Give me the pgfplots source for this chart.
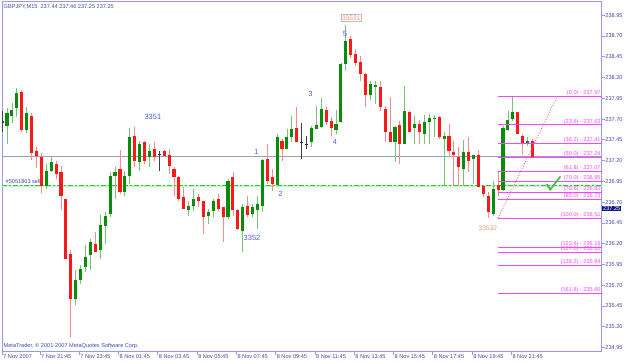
\documentclass[border=0pt]{standalone}
\usepackage{pgfplots}
\pgfplotsset{compat=1.18}
\usepackage{pgfplotstable}
\usepackage{fontspec}
\setmainfont{Liberation Sans}
\definecolor{cgbody}{RGB}{10,140,10}
\definecolor{cgwick}{RGB}{120,195,120}
\definecolor{crbody}{RGB}{250,25,25}
\definecolor{crwick}{RGB}{245,140,140}
\definecolor{axcol}{RGB}{150,150,255}
\definecolor{lblcol}{RGB}{70,70,170}
\definecolor{fibcol}{RGB}{250,70,250}
\definecolor{ordA}{RGB}{200,245,200}
\definecolor{ordB}{RGB}{30,210,30}
\definecolor{wavecol}{RGB}{90,90,240}
\definecolor{tkcol}{RGB}{240,150,120}
\definecolor{bidcol}{RGB}{150,160,190}
\newcommand\tf{\fontsize{5.6bp}{6bp}\selectfont}
\newcommand\wf{\fontsize{7.5bp}{8bp}\selectfont}

\pgfplotstableread{
i o h l c
0 237.62 237.83 237.40 237.77
1 237.74 237.89 237.65 237.81
2 237.83 238.08 237.72 238.02
4 237.57 237.85 237.53 237.77
8 236.90 237.16 236.86 237.08
9 237.08 237.24 237.06 237.19
14 235.53 235.88 235.46 235.77
15 235.77 235.94 235.72 235.90
16 235.92 236.18 235.86 236.04
17 236.06 236.26 235.88 236.22
19 236.12 236.54 236.02 236.43
20 236.42 236.58 236.20 236.54
21 236.56 237.06 236.52 237.02
22 237.02 237.12 236.74 237.07
24 236.82 237.08 236.77 237.02
25 237.02 237.60 236.92 237.49
27 237.18 237.44 237.08 237.40
29 237.24 237.40 237.12 237.32
37 236.61 236.71 236.54 236.66
38 236.66 236.86 236.59 236.74
41 236.54 236.62 236.44 236.58
42 236.59 236.74 236.52 236.72
45 236.52 236.98 236.50 236.96
48 236.36 236.68 236.10 236.64
50 236.56 236.68 236.52 236.64
51 236.61 236.78 236.38 236.68
52 236.66 237.22 236.58 237.21
55 236.91 237.52 236.90 237.48
57 237.34 237.58 237.34 237.48
58 237.48 237.74 237.42 237.58
62 237.42 237.62 237.36 237.60
63 237.58 237.86 237.58 237.63
64 237.61 237.96 237.60 237.82
67 237.57 237.81 237.52 237.64
68 237.66 238.38 237.66 238.36
69 238.36 238.83 238.28 238.64
74 237.99 238.16 237.93 238.12
75 238.10 238.16 237.88 238.11
79 237.42 237.62 237.18 237.61
81 237.40 238.10 237.40 237.80
83 237.60 237.74 237.40 237.64
85 237.52 237.75 237.40 237.66
86 237.67 237.76 237.40 237.72
87 237.70 237.75 237.48 237.72
89 237.46 237.54 236.90 237.50
93 237.10 237.45 236.90 237.31
95 237.22 237.27 236.92 237.27
99 236.56 236.96 236.53 236.86
101 236.85 237.62 236.84 237.60
102 237.57 237.80 237.56 237.69
103 237.70 237.97 237.68 237.78
106 237.40 237.48 237.38 237.44
}\upT

\pgfplotstableread{
i o h l c
3 238.03 238.05 237.54 237.57
5 237.74 237.78 237.21 237.29
6 237.32 237.36 237.11 237.26
7 237.25 237.29 236.81 236.90
10 237.16 237.19 236.98 237.04
11 237.07 237.14 236.60 236.77
12 236.74 236.74 236.02 236.02
13 236.08 236.12 235.08 235.54
18 236.20 236.34 236.10 236.10
23 237.10 237.33 236.80 236.82
26 237.50 237.61 237.13 237.20
28 237.42 237.44 237.16 237.20
30 237.34 237.42 237.20 237.24
32 237.32 237.33 237.24 237.25
33 237.27 237.34 237.04 237.13
34 237.10 237.13 236.77 237.00
35 237.01 237.02 236.72 236.74
36 236.76 236.88 236.62 236.62
39 236.76 236.80 236.64 236.71
40 236.72 236.72 236.32 236.52
43 236.74 236.80 236.60 236.62
44 236.64 236.64 236.22 236.52
46 237.00 237.07 236.54 236.60
47 236.60 236.62 236.37 236.38
49 236.66 236.77 236.52 236.54
53 237.22 237.40 236.92 236.96
54 237.00 237.10 236.84 236.92
56 237.44 237.46 237.20 237.34
59 237.60 237.85 237.43 237.43
65 237.81 237.84 237.63 237.67
66 237.68 237.72 237.50 237.60
70 238.66 238.70 238.44 238.47
71 238.48 238.54 238.34 238.38
72 238.39 238.46 238.16 238.24
73 238.24 238.26 237.85 237.99
76 238.09 238.16 237.80 237.85
77 237.82 237.86 237.42 237.55
78 237.55 237.97 237.42 237.43
80 237.63 237.68 237.16 237.40
82 237.78 237.80 237.54 237.55
84 237.64 237.69 237.40 237.54
88 237.73 237.74 237.46 237.48
90 237.50 237.64 237.24 237.32
91 237.30 237.44 236.90 237.27
92 237.25 237.36 236.90 237.12
94 237.30 237.48 237.06 237.20
96 237.27 237.33 236.88 236.88
97 236.90 236.91 236.76 236.80
98 236.77 236.82 236.51 236.58
100 236.91 237.06 236.77 236.85
104 237.78 237.79 237.52 237.52
105 237.50 237.52 237.27 237.40
107 237.44 237.46 237.25 237.25
}\downT

\pgfplotstableread{
i o h l c
-1 237.67 237.80 237.54 237.67
31 237.28 237.32 237.08 237.28
60 237.42 237.66 237.22 237.42
61 237.40 237.50 237.34 237.40
}\dojiT

\pgfplotsset{
  wick/.style={forget plot, draw=none, mark=none,
    error bars/.cd, y dir=both, y explicit, error mark=none,
    error bar style={solid, line width=0.8bp, draw=#1}},
  body/.style={forget plot, draw=none, mark=none,
    error bars/.cd, y dir=both, y explicit, error mark=none,
    error bar style={solid, line width=3.1bp, line cap=butt, draw=#1}},
}

\begin{document}
\begin{tikzpicture}
\useasboundingbox (0,0) rectangle (625bp,363bp);
\begin{axis}[
  at={(2bp,11.3bp)}, anchor=south west,
  scale only axis, width=599.7bp, height=349.7bp,
  xmin=-1.02, xmax=121.1, ymin=234.90, ymax=239.11,
  axis line style={draw=axcol, line width=1bp},
  tick style={draw=axcol, line width=0.8bp},
  tick align=outside, major tick length=3bp,
  xtick pos=bottom, ytick pos=right, yticklabel pos=right,
  ytick={234.95,235.20,235.45,235.70,235.95,236.20,236.45,236.70,236.95,237.20,237.45,237.70,237.95,238.20,238.45,238.70,238.95},
  yticklabels={234.95,235.20,235.45,235.70,235.95,236.20,236.45,236.70,236.95,237.20,237.45,237.70,237.95,238.20,238.45,238.70,238.95},
  yticklabel style={font=\tf, text=lblcol, anchor=west, inner sep=0.5bp, xshift=0bp},
  xtick={-1.0,6.7,14.7,22.7,30.7,38.7,46.7,54.7,62.7,70.7,78.7,86.7,94.7,102.7},
  xticklabels={7 Nov 2007,7 Nov 21:45,7 Nov 23:45,8 Nov 01:45,8 Nov 03:45,8 Nov 05:45,8 Nov 07:45,8 Nov 09:45,8 Nov 11:45,8 Nov 13:45,8 Nov 15:45,8 Nov 17:45,8 Nov 19:45,8 Nov 21:45},
  xticklabel style={font=\tf, text=lblcol, anchor=north west, inner sep=0.5bp, xshift=0.5bp, yshift=1bp},
  clip=true,
]
% bid line and order line
\addplot[forget plot, draw=bidcol, line width=0.8bp] coordinates {(-1.02,237.25) (121.1,237.25)};
\addplot[forget plot, draw=ordA, line width=2bp] coordinates {(-1.02,236.90) (121.1,236.90)};
\addplot[forget plot, draw=ordB, line width=1.6bp, dash pattern=on 5bp off 2bp on 2bp off 2bp] coordinates {(-1.02,236.90) (121.1,236.90)};

% wicks
\addplot[wick=cgwick] table[x=i, y expr={(\thisrow{h}+\thisrow{l})/2}, y error expr={(\thisrow{h}-\thisrow{l})/2}] {\upT};
\addplot[wick=crwick] table[x=i, y expr={(\thisrow{h}+\thisrow{l})/2}, y error expr={(\thisrow{h}-\thisrow{l})/2}] {\downT};
\addplot[wick=black!75] table[x=i, y expr={(\thisrow{h}+\thisrow{l})/2}, y error expr={(\thisrow{h}-\thisrow{l})/2}] {\dojiT};
% bodies
\addplot[body=cgbody] table[x=i, y expr={(\thisrow{o}+\thisrow{c})/2}, y error expr={max(abs(\thisrow{o}-\thisrow{c})/2,0.005)}] {\upT};
\addplot[body=crbody] table[x=i, y expr={(\thisrow{o}+\thisrow{c})/2}, y error expr={max(abs(\thisrow{o}-\thisrow{c})/2,0.005)}] {\downT};
\addplot[body=black!80] table[x=i, y expr={(\thisrow{o}+\thisrow{c})/2}, y error expr={max(abs(\thisrow{o}-\thisrow{c})/2,0.005)}] {\dojiT};

% fibonacci diagonal
\addplot[forget plot, draw={rgb,255:red,240;green,100;blue,100}, line width=0.8bp, dash pattern=on 1bp off 1.6bp] coordinates {(100.0,236.51) (112.0,237.97)};
% fibonacci levels
\foreach \lv/\lab in {237.97/0.0, 237.63/23.6, 237.41/38.2, 237.24/50.0, 237.07/61.8, 236.95/70.0, 236.82/78.6, 236.73/85.0, 236.51/100.0, 236.16/123.6, 236.10/127.0, 235.94/138.2, 235.60/161.8}{
  \edef\temp{\noexpand\addplot[forget plot, draw=fibcol, line width=0.9bp] coordinates {(99.9,\lv) (121.1,\lv)};
  \noexpand\node[anchor=south east, inner sep=0.4bp, font=\noexpand\tf, text=fibcol] at (axis cs:121.0,\lv) {(\lab) - \lv};}
  \temp
}
% check mark
\addplot[forget plot, draw={rgb,255:red,60;green,190;blue,60}, line width=1.6bp] coordinates {(109.9,236.92) (110.6,236.85) (112.7,237.01)};

% annotations
\node[anchor=north west, inner sep=0pt, font=\tf, text=lblcol] at ([xshift=1.5bp,yshift=-2bp]rel axis cs:0,1) {GBPJPY,M15\ \ 237.44 237.46 237.25 237.25};
\node[anchor=south west, inner sep=0pt, font=\tf, text=lblcol] at ([xshift=1.5bp,yshift=2.5bp]rel axis cs:0,0) {MetaTrader, © 2001-2007 MetaQuotes Software Corp.};
\node[anchor=south west, inner sep=0pt, font=\tf, text=lblcol] at (axis cs:-0.3,236.92) {\#5051863 sell};
\node[font=\wf, text=wavecol, inner sep=0pt] at (axis cs:29.7,237.73) {3351};
\node[font=\wf, text=wavecol, inner sep=0pt] at (axis cs:49.9,236.27) {3352};
\node[font=\wf, text=wavecol, inner sep=0pt] at (axis cs:50.8,237.31) {1};
\node[font=\wf, text=wavecol, inner sep=0pt] at (axis cs:55.7,236.80) {2};
\node[font=\wf, text=wavecol, inner sep=0pt] at (axis cs:61.8,238.00) {3};
\node[font=\wf, text=wavecol, inner sep=0pt] at (axis cs:66.8,237.42) {4};
\node[font=\wf, text=wavecol, inner sep=0pt] at (axis cs:68.8,238.73) {5};
\node[font=\fontsize{6.6bp}{7bp}\selectfont, text=tkcol, draw=black!25, inner sep=0.8bp] at (axis cs:70.1,238.92) {33531};
\node[font=\fontsize{6.6bp}{7bp}\selectfont, text=tkcol, inner sep=0pt] at (axis cs:97.9,236.39) {33532};
\end{axis}
\node[anchor=west, fill={rgb,255:red,20;green,20;blue,130}, text=white, font=\tf, inner sep=0.8bp] at (602.2bp,154.3bp) {237.25};
\end{tikzpicture}
\end{document}
